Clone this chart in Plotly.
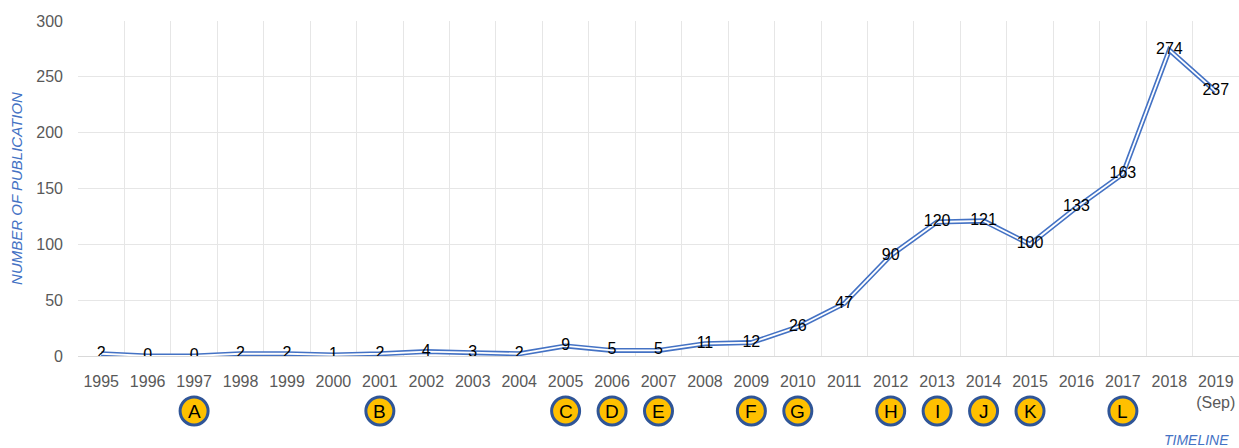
import plotly.graph_objects as go

# Publications per year
years = ["1995", "1996", "1997", "1998", "1999", "2000", "2001", "2002", "2003", "2004",
         "2005", "2006", "2007", "2008", "2009", "2010", "2011", "2012", "2013", "2014",
         "2015", "2016", "2017", "2018", "2019<br>(Sep)"]
publications = [2, 0, 0, 2, 2, 1, 2, 4, 3, 2, 9, 5, 5, 11, 12, 26, 47, 90, 120, 121,
                100, 133, 163, 274, 237]

# Milestone markers placed under the timeline
milestone_letters = ["A", "B", "C", "D", "E", "F", "G", "H", "I", "J", "K", "L"]
milestone_years = ["1997", "2001", "2005", "2006", "2007", "2009", "2010", "2012",
                   "2013", "2014", "2015", "2017"]

FONT = "Liberation Sans"
BLUE = "#4472C4"
GRID = "#E6E6E6"
TICK_GRAY = "#595959"

idx = list(range(len(years)))
plain_years = [y.split("<br>")[0] for y in years]

fig = go.Figure()

# Double-stroke line: wide blue under a narrow white core
fig.add_trace(go.Scatter(x=idx, y=publications, mode="lines",
                         line=dict(color=BLUE, width=5), hoverinfo="skip"))
fig.add_trace(go.Scatter(x=idx, y=publications, mode="lines",
                         line=dict(color="white", width=1.8), hoverinfo="skip"))
# Value labels centred on each point
fig.add_trace(go.Scatter(x=idx, y=publications, mode="text",
                         text=[str(v) for v in publications],
                         textposition="middle center",
                         textfont=dict(family=FONT, size=16, color="black"),
                         hoverinfo="skip"))

shapes = []
annotations = []
for letter, yr in zip(milestone_letters, milestone_years):
    xi = plain_years.index(yr)
    shapes.append(dict(type="circle", xref="x", yref="paper",
                       xsizemode="pixel", ysizemode="pixel",
                       xanchor=xi, yanchor=0,
                       x0=-14, x1=14, y0=-69, y1=-41,
                       fillcolor="#FFC000", line=dict(color="#2F5597", width=3),
                       layer="above"))
    annotations.append(dict(x=xi, y=0, xref="x", yref="paper", yshift=-55,
                            text=letter, showarrow=False,
                            font=dict(family=FONT, size=19, color="black"),
                            xanchor="center", yanchor="middle"))

annotations.append(dict(x=1, y=0, xref="paper", yref="paper", yshift=-84,
                        xshift=-8, text="<i>TIMELINE</i>", showarrow=False,
                        font=dict(family=FONT, size=14, color=BLUE),
                        xanchor="right", yanchor="middle"))

fig.update_layout(
    width=1239, height=448,
    margin=dict(l=78, r=0, t=21, b=92),
    paper_bgcolor="white", plot_bgcolor="white",
    showlegend=False,
    shapes=shapes, annotations=annotations,
    xaxis=dict(range=[-0.5, 24.5], tickmode="array", tickvals=idx, ticktext=years,
               showgrid=False, zeroline=False, showline=False, ticks="",
               ticklabelstandoff=14,
               tickfont=dict(family=FONT, size=16, color=TICK_GRAY),
               minor=dict(tickvals=[i - 0.5 for i in range(len(years) + 1)],
                          showgrid=True, gridcolor=GRID, gridwidth=1, ticks="")),
    yaxis=dict(range=[0, 300], tickmode="array", tickvals=[0, 50, 100, 150, 200, 250, 300],
               showgrid=True, gridcolor=GRID, gridwidth=1,
               zeroline=True, zerolinecolor="#D9D9D9", zerolinewidth=1,
               showline=False, ticks="", ticklabelstandoff=14,
               tickfont=dict(family=FONT, size=16, color=TICK_GRAY),
               title=dict(text="<i>NUMBER OF PUBLICATION</i>", standoff=10,
                          font=dict(family=FONT, size=15, color=BLUE))),
)

fig.write_html("out.html")
